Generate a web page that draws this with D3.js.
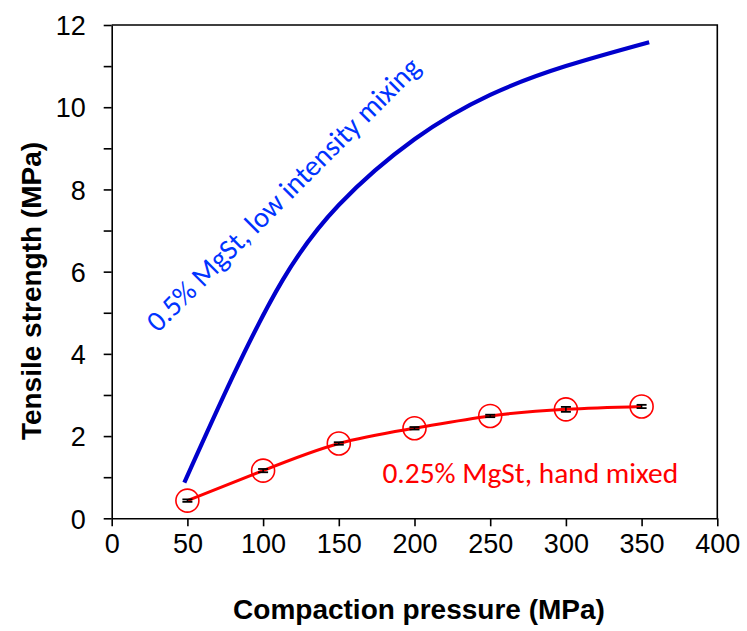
<!DOCTYPE html>
<html>
<head>
<meta charset="utf-8">
<script src="https://cdn.jsdelivr.net/npm/d3@7"></script>
<style>
  html, body { margin: 0; padding: 0; background: #fff; }
  svg { display: block; }
</style>
</head>
<body>
<svg id="chart" width="747" height="631"></svg>
<script>
// ---- data ----
const xTicks = [0, 50, 100, 150, 200, 250, 300, 350, 400];
const yTicks = [0, 2, 4, 6, 8, 10, 12];
const yMinorTicks = [1, 3, 5, 7, 9, 11];

// 0.5% MgSt, low intensity mixing (fitted curve)
const blueX = [48, 80, 113, 150, 200, 250, 300, 355];
const blueY = [0.87, 3.45, 5.8, 7.62, 9.22, 10.3, 11.0, 11.58];

// 0.25% MgSt, hand mixed (measured points)
const redX = [50, 100, 150, 200, 250, 300, 350];
const redY = [0.43, 1.16, 1.82, 2.19, 2.49, 2.65, 2.72];
const redErr = [0.03, 0.04, 0.03, 0.03, 0.03, 0.06, 0.04];

const blueLabel = "0.5% MgSt, low intensity mixing";
const redLabel = "0.25% MgSt, hand mixed";
const xTitle = "Compaction pressure (MPa)";
const yTitle = "Tensile strength (MPa)";

// ---- layout ----
const svg = d3.select("#chart");
const L = 111.7, R = 717.3, T = 25, B = 518.3;
const x = d3.scaleLinear().domain([0, 400]).range([L, R]);
const y = d3.scaleLinear().domain([0, 12]).range([B, T]);

// frame (top & right)
svg.append("path")
  .attr("d", `M${L},${T}H${R}V${B}`)
  .attr("fill", "none").attr("stroke", "#000").attr("stroke-width", 1.6);

// axes
const xAxis = svg.append("g").attr("transform", `translate(0,${B})`)
  .call(d3.axisBottom(x).tickValues(xTicks).tickSize(8).tickPadding(8).tickSizeOuter(0));
const yAxis = svg.append("g").attr("transform", `translate(${L},0)`)
  .call(d3.axisLeft(y).tickValues(yTicks).tickSize(8).tickPadding(18).tickSizeOuter(0));
svg.append("g").attr("transform", `translate(${L},0)`)
  .call(d3.axisLeft(y).tickValues(yMinorTicks).tickSize(8).tickFormat("").tickSizeOuter(0))
  .select(".domain").remove();

svg.selectAll(".domain, .tick line").attr("stroke", "#000").attr("stroke-width", 1.6);
svg.selectAll(".tick text")
  .attr("font-family", "Arial, 'Liberation Sans', sans-serif")
  .attr("font-size", 27).attr("fill", "#000");
xAxis.selectAll(".tick text").attr("dy", "0.71em");
yAxis.selectAll(".tick text").attr("dy", "0.36em");

// axis titles
svg.append("text")
  .attr("x", 419).attr("y", 619)
  .attr("text-anchor", "middle")
  .attr("font-family", "Arial, 'Liberation Sans', sans-serif")
  .attr("font-weight", "bold").attr("font-size", 28)
  .text(xTitle);
svg.append("text")
  .attr("transform", `translate(41,291) rotate(-90)`)
  .attr("text-anchor", "middle")
  .attr("font-family", "Arial, 'Liberation Sans', sans-serif")
  .attr("font-weight", "bold").attr("font-size", 28)
  .text(yTitle);

// blue curve
const blueData = blueX.map((d, i) => [d, blueY[i]]);
svg.append("path")
  .datum(blueData)
  .attr("d", d3.line().x(d => x(d[0])).y(d => y(d[1])).curve(d3.curveNatural))
  .attr("fill", "none").attr("stroke", "#0000CC").attr("stroke-width", 4.2);

// red curve
const redData = redX.map((d, i) => ({ x: d, y: redY[i], e: redErr[i] }));
svg.append("path")
  .datum(redData)
  .attr("d", d3.line().x(d => x(d.x)).y(d => y(d.y)).curve(d3.curveNatural))
  .attr("fill", "none").attr("stroke", "#FF0000").attr("stroke-width", 3);

// error bars
const eb = svg.append("g");
redData.forEach(d => {
  const cx = x(d.x);
  const y1 = y(d.y - d.e), y2 = y(d.y + d.e);
  eb.append("line").attr("x1", cx).attr("x2", cx).attr("y1", y1).attr("y2", y2)
    .attr("stroke", "#000").attr("stroke-width", 1.5);
  [y1, y2].forEach(yy => eb.append("line")
    .attr("x1", cx - 5).attr("x2", cx + 5).attr("y1", yy).attr("y2", yy)
    .attr("stroke", "#000").attr("stroke-width", 1.8));
});

// markers
svg.append("g").selectAll("circle").data(redData).join("circle")
  .attr("cx", d => x(d.x)).attr("cy", d => y(d.y)).attr("r", 11.5)
  .attr("fill", "none").attr("stroke", "#FF0000").attr("stroke-width", 1.6);

// annotations
const annFont = "Carlito, Calibri, Lato, 'Open Sans', sans-serif";
function fitText(sel, target, base) {
  sel.attr("font-size", base);
  const w = sel.node().getComputedTextLength();
  if (w > 0) sel.attr("font-size", base * target / w);
}
const rt = svg.append("text")
  .attr("x", x(178.8)).attr("y", y(0.86))
  .attr("font-family", annFont).attr("fill", "#FF0000")
  .text(redLabel);
fitText(rt, 296, 28);

const bx = x(30.5), by = y(4.5);
const bt = svg.append("text")
  .attr("transform", `translate(${bx},${by}) rotate(-45)`)
  .attr("font-family", annFont).attr("fill", "#0033FF")
  .text(blueLabel);
fitText(bt, 374, 28);
</script>
</body>
</html>
